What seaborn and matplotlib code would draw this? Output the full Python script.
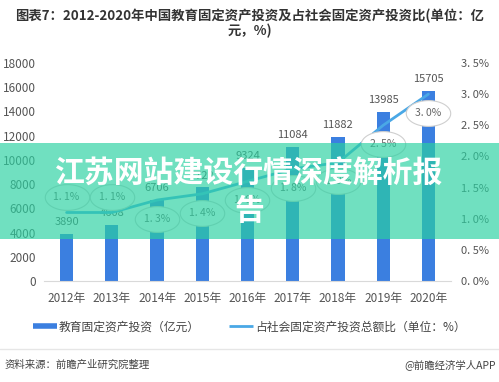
import numpy as np
import pandas as pd
import matplotlib
matplotlib.use("Agg")
import matplotlib.pyplot as plt
from matplotlib.patches import Rectangle
from matplotlib.lines import Line2D
from matplotlib.ticker import FuncFormatter, MultipleLocator
from matplotlib.transforms import offset_copy
import seaborn as sns

# ---- data ----
years = ["2012年", "2013年", "2014年", "2015年", "2016年", "2017年", "2018年", "2019年", "2020年"]
investment = [3890, 4608, 6706, 7722, 9324, 11084, 11882, 13985, 15705]
share_pct = [1.1, 1.1, 1.3, 1.4, 1.6, 1.8, 1.9, 2.5, 3.0]
ellipse_above = [True, True, False, False, False, False, False, False, False]

title = "图表7：2012-2020年中国教育固定资产投资及占社会固定资产投资比(单位：亿\n元，%)"
legend_labels = ["教育固定资产投资（亿元）", "占社会固定资产投资总额比（单位：%）"]
source_left = "资料来源：前瞻产业研究院整理"
source_right = "@前瞻经济学人APP"
banner_line1 = "江苏网站建设行情深度解析报"
banner_line2 = "告"

sns.set_style("white")
plt.rcParams['font.family'] = ['Noto Sans CJK SC', 'DejaVu Sans']

BAR = "#3b7fe0"
LINE = "#4aa8e6"
GREY = "#555555"

fig = plt.figure(figsize=(4.99, 3.82), dpi=100)
ax = fig.add_axes([44 / 499, 101 / 382, 407 / 499, 218 / 382])

df = pd.DataFrame({"year": years, "inv": investment})
sns.barplot(data=df, x="year", y="inv", ax=ax, color=BAR, width=0.29,
            saturation=1, edgecolor="none")
ax.set_xlim(-0.5, 8.5)
ax.set_ylim(0, 18000)
ax.yaxis.set_major_locator(MultipleLocator(2000))
ax.set_xlabel("")
ax.set_ylabel("")
for s in ["top", "right", "left"]:
    ax.spines[s].set_visible(False)
ax.spines["bottom"].set_color("#d9d9d9")
ax.tick_params(axis="both", length=0, labelsize=8.5, labelcolor=GREY)
ax.tick_params(axis="x", pad=8)
ax.tick_params(axis="y", pad=6)

for i, v in enumerate(investment):
    ax.annotate(str(v), (i, v), xytext=(0, 5), textcoords="offset points",
                ha="center", va="bottom", fontsize=8, color=GREY)

ax2 = ax.twinx()
sns.lineplot(x=np.arange(len(years)), y=share_pct, ax=ax2, color=LINE, lw=2)
ax2.set_ylim(0, 3.5)
ax2.yaxis.set_major_locator(MultipleLocator(0.5))
ax2.yaxis.set_major_formatter(FuncFormatter(lambda v, p: f"{v:.1f}".replace(".", ". ") + "%"))
for s in ["top", "right", "left", "bottom"]:
    ax2.spines[s].set_visible(False)
ax2.tick_params(axis="y", length=0, labelsize=8, labelcolor=GREY, pad=7)

theta = np.linspace(0, 2 * np.pi, 120)
ell_marker = np.column_stack([np.cos(theta), 0.58 * np.sin(theta)])
for i, v in enumerate(share_pct):
    dy = 11.5 if ellipse_above[i] else -13.5
    tr = offset_copy(ax2.transData, fig=fig, x=0, y=dy, units="points")
    ax2.plot([i], [v], transform=tr, marker=ell_marker, markersize=32,
             markerfacecolor="white", markeredgecolor="#cfcfcf", markeredgewidth=0.8,
             linestyle="none", zorder=5)
    ax2.annotate(f"{v:.1f}".replace(".", ". ") + "%", (i, v), xytext=(0, dy),
                 textcoords="offset points", ha="center", va="center",
                 fontsize=7.5, color="#666666", zorder=6)

# title
fig.text(0.5, 1 - 9 / 382, title, ha="center", va="top", fontsize=9.6,
         fontweight="bold", color="#333333", linespacing=1.05)

# legend
handles = [Line2D([0], [0], color=BAR, lw=4, solid_capstyle="butt"),
           Line2D([0], [0], color=LINE, lw=2, solid_capstyle="butt")]
fig.legend(handles, legend_labels, loc="center", bbox_to_anchor=(0.5, 1 - 327 / 382),
           ncol=2, frameon=False, fontsize=8.5, handlelength=2.0, handletextpad=0.2,
           columnspacing=2.5, labelcolor="#444444")

# separator and source
fig.add_artist(Line2D([0, 1], [1 - 349 / 382] * 2, color="#e6e6e6", lw=1))
fig.text(5 / 499, 1 - 365 / 382, source_left, ha="left", va="center", fontsize=7.5, color="#444444")
fig.text(496 / 499, 1 - 365 / 382, source_right, ha="right", va="center", fontsize=7.5, color="#444444")

# banner overlay
fig.add_artist(Rectangle((0, 1 - 239 / 382), 1, 96 / 382, transform=fig.transFigure,
                         facecolor="#2ad1a1", alpha=0.67, edgecolor="none", zorder=10))
fig.text(0.5, 1 - 174 / 382, banner_line1, ha="center", va="center", fontsize=21.5,
         fontweight="heavy", color="white", zorder=11)
fig.text(0.5, 1 - 211 / 382, banner_line2, ha="center", va="center", fontsize=21.5,
         fontweight="heavy", color="white", zorder=11)

fig.savefig("out.png", dpi=100)
